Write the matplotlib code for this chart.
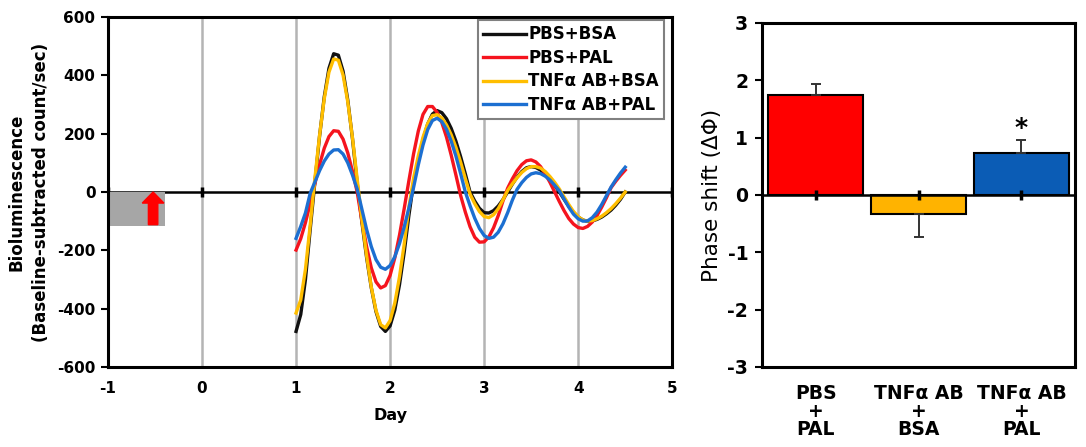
import numpy as np
import matplotlib
matplotlib.use('Agg')
import matplotlib.pyplot as plt
from matplotlib.patches import Rectangle, FancyArrow

plt.rcParams['font.family'] = ['DejaVu Sans']
plt.rcParams['font.weight'] = 'bold'
plt.rcParams['axes.unicode_minus'] = False

# Bioluminescence traces, read every 0.05 day from day 1 to 4.5
days = np.round(np.arange(1.0, 4.501, 0.05), 2)
pbs_bsa = [-478, -420, -300, -130, 33, 191, 326, 424, 474, 469, 414, 315, 183, 31, -103, -224, -328, -410, -461, -478,
           -459, -405, -318, -207, -80, 32, 110, 179, 233, 267, 279, 272, 251, 218, 174, 121, 62, 0, -31, -56,
           -71, -72, -64, -48, -26, 0, 27, 51, 70, 83, 87, 84, 75, 62, 44, 23, 0, -25, -49, -70,
           -86, -96, -101, -99, -94, -86, -75, -62, -45, -25, 0]
pbs_pal = [-199, -160, -105, -40, 28, 94, 150, 190, 210, 208, 181, 134, 71, 0, -98, -187, -260, -308, -329, -321,
           -286, -226, -148, -57, 39, 131, 209, 266, 293, 293, 273, 238, 188, 126, 58, -12, -69, -119, -155, -172,
           -171, -154, -123, -81, -31, 13, 45, 73, 94, 107, 110, 103, 87, 62, 33, 0, -33, -64, -91, -110,
           -122, -125, -118, -103, -81, -52, -20, 15, 37, 57, 75]
tnf_bsa = [-415, -370, -265, -115, 46, 194, 320, 411, 456, 452, 401, 309, 186, 44, -93, -218, -326, -406, -455, -466,
           -441, -381, -291, -179, -52, 48, 124, 188, 235, 262, 265, 254, 230, 196, 153, 102, 46, -7, -40, -67,
           -84, -88, -78, -57, -27, 5, 28, 49, 67, 80, 87, 87, 82, 70, 53, 33, 10, -17, -43, -67,
           -85, -96, -100, -98, -92, -83, -71, -57, -40, -21, 0]
tnf_pal = [-159, -118, -72, -5, 34, 73, 106, 130, 144, 145, 130, 100, 58, 10, -59, -128, -187, -232, -258, -265,
           -252, -222, -177, -120, -55, 16, 93, 161, 214, 245, 253, 241, 215, 174, 123, 63, 0, -47, -90, -125,
           -149, -159, -155, -138, -109, -71, -28, 9, 32, 50, 62, 66, 63, 54, 41, 23, 4, -24, -52, -76,
           -92, -100, -99, -88, -69, -43, -13, 17, 42, 65, 85]
series_labels = ['PBS+BSA', 'PBS+PAL', 'TNFα AB+BSA', 'TNFα AB+PAL']
line_colors = ['#111111', '#f5141e', '#ffbe00', '#1c6fd1']

# Phase shift bars
groups = ['PBS\n+\nPAL', 'TNFα AB\n+\nBSA', 'TNFα AB\n+\nPAL']
shift = [1.75, -0.33, 0.73]
err_up = [0.18, 0.0, 0.23]
err_down = [0.0, 0.41, 0.0]
bar_colors = ['#ff0000', '#ffb300', '#0b5cb5']

fig = plt.figure(figsize=(10.86, 4.47), dpi=100)
ax = fig.add_axes([0.0994, 0.179, 0.5196, 0.783])
ax2 = fig.add_axes([0.7017, 0.179, 0.2882, 0.7696])

# --- left: traces ---
for xg in range(0, 5):
    ax.axvline(xg, color='#b4b4b4', lw=1.8, zorder=0)
ax.axhline(0, color='black', lw=1.8, zorder=1)
ax.plot(range(-1, 6), [0] * 7, ls='none', marker='|', ms=7, mew=2.5, color='black', zorder=1)
ax.add_patch(Rectangle((-1, -115), 0.61, 115, facecolor='#a6a6a6', edgecolor='none', zorder=1))
ax.add_patch(FancyArrow(-0.52, -112, 0, 112, width=0.1, head_width=0.23, head_length=38,
                        length_includes_head=True, color='#ff0000', zorder=2))

for vals, lab, c in zip([pbs_bsa, pbs_pal, tnf_bsa, tnf_pal], series_labels, line_colors):
    ax.plot(days, vals, color=c, lw=2.4, label=lab, zorder=3)

ax.set_xlim(-1, 5)
ax.set_ylim(-600, 600)
ax.set_xticks(range(-1, 6))
ax.set_yticks(range(-600, 601, 200))
ax.tick_params(axis='x', length=0, labelsize=11, pad=10)
ax.tick_params(axis='y', length=5, width=1.5, labelsize=11, pad=4)
ax.set_xlabel('Day', fontsize=11.5, fontweight='bold', labelpad=9)
ax.set_ylabel('Bioluminescence\n(Baseline-subtracted count/sec)', fontsize=12,
              fontweight='bold', labelpad=5, linespacing=1.45)
for s in ax.spines.values():
    s.set_linewidth(2.2)
leg = ax.legend(loc='upper right', bbox_to_anchor=(0.985, 0.99), fontsize=12, frameon=True,
                fancybox=False, framealpha=1, edgecolor='#808080', handlelength=2.6,
                handletextpad=0.1, labelspacing=0.33, borderpad=0.3, borderaxespad=0)
leg.get_frame().set_linewidth(1.5)

# --- right: phase shift ---
xpos = np.arange(len(groups))
ax2.bar(xpos, shift, width=0.93, color=bar_colors, edgecolor='black', linewidth=1.5, zorder=2)
ax2.errorbar(xpos, shift, yerr=[err_down, err_up], fmt='none', ecolor='#333333',
             elinewidth=1.4, capsize=3.5, capthick=1.4, zorder=3)
ax2.axhline(0, color='black', lw=1.8, zorder=4)
ax2.plot(xpos, [0] * len(xpos), ls='none', marker='|', ms=7, mew=2.5, color='black', zorder=4)
ax2.text(xpos[2], shift[2] + err_up[2] + 0.2, '*', ha='center', va='center',
         fontsize=18, fontweight='bold')
ax2.set_xlim(-0.52, 2.52)
ax2.set_ylim(-3, 3)
ax2.set_yticks(range(-3, 4))
ax2.set_xticks(xpos)
ax2.set_xticklabels(groups, fontsize=13.5, linespacing=0.93)
ax2.tick_params(axis='x', length=0, pad=12)
ax2.tick_params(axis='y', length=5, width=1.5, labelsize=13.5, pad=5)
ax2.set_ylabel('Phase shift (ΔΦ)', fontsize=15.5, fontweight='normal', labelpad=4)
for s in ax2.spines.values():
    s.set_linewidth(2.2)

fig.savefig('out.png', dpi=100)
